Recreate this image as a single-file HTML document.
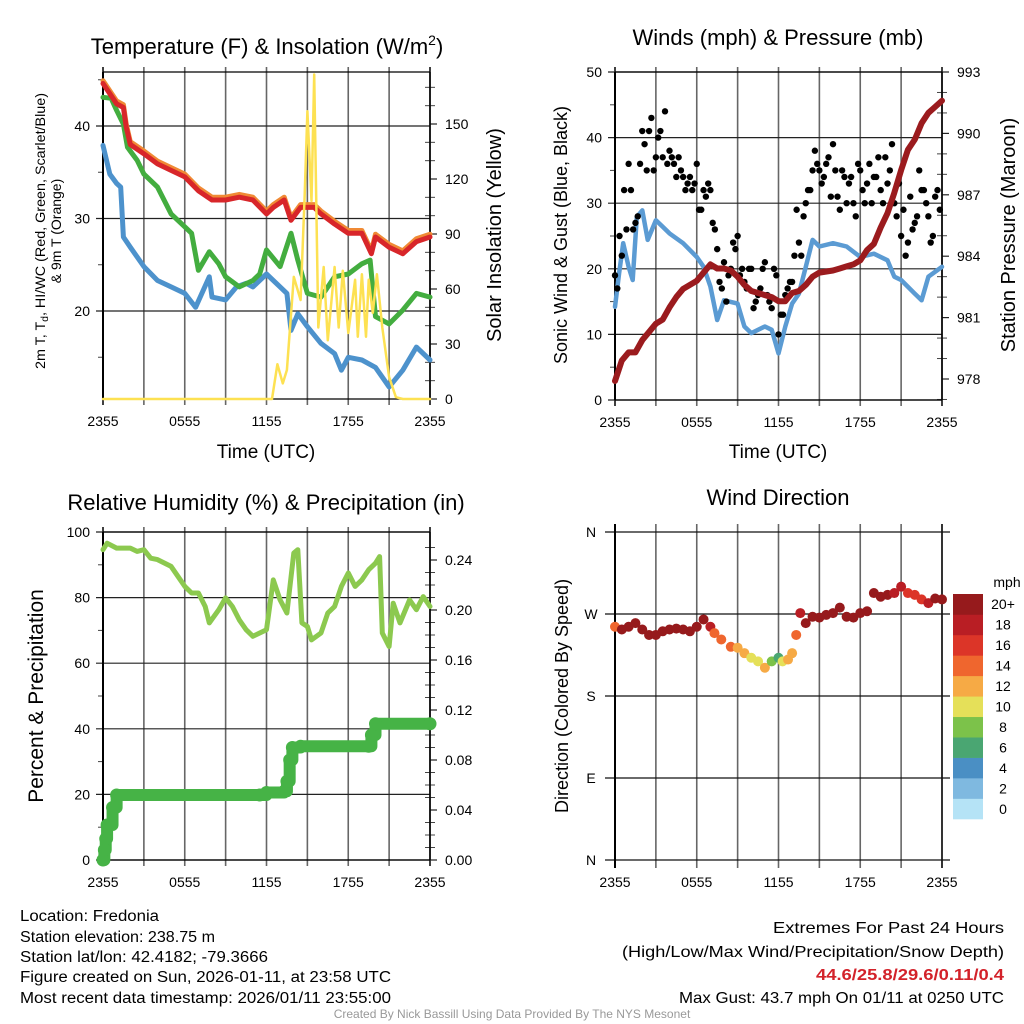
<!DOCTYPE html>
<html><head><meta charset="utf-8"><style>
html,body{margin:0;padding:0;background:#fff}
svg{display:block;font-family:"Liberation Sans",Arial,sans-serif}
</style></head><body>
<svg id="chart" width="1024" height="1024" viewBox="0 0 1024 1024" xmlns="http://www.w3.org/2000/svg">
<rect width="1024" height="1024" fill="#fff"/>
<g id="layer"></g>
<text x="267" y="54" font-size="22" text-anchor="middle">Temperature (F) &amp; Insolation (W/m<tspan font-size="14" dy="-9">2</tspan><tspan dy="9">)</tspan></text>
<text x="778" y="45" font-size="22" text-anchor="middle">Winds (mph) &amp; Pressure (mb)</text>
<text x="266" y="510" font-size="22" text-anchor="middle">Relative Humidity (%) &amp; Precipitation (in)</text>
<text x="778" y="505" font-size="22" text-anchor="middle">Wind Direction</text>

<text transform="translate(45,231) rotate(-90)" font-size="14" text-anchor="middle" textLength="276" lengthAdjust="spacingAndGlyphs">2m T, T<tspan font-size="10" dy="3">d</tspan><tspan dy="-3">, HI/WC (Red, Green, Scarlet/Blue)</tspan></text>
<text transform="translate(61,231) rotate(-90)" font-size="14" text-anchor="middle">&amp; 9m T (Orange)</text>
<text transform="translate(501,235) rotate(-90)" font-size="20" text-anchor="middle">Solar Insolation (Yellow)</text>
<text transform="translate(567,235) rotate(-90)" font-size="18" text-anchor="middle">Sonic Wind &amp; Gust (Blue, Black)</text>
<text transform="translate(1015,235) rotate(-90)" font-size="20" text-anchor="middle">Station Pressure (Maroon)</text>
<text transform="translate(43,696) rotate(-90)" font-size="21" text-anchor="middle">Percent &amp; Precipitation</text>
<text transform="translate(568,696) rotate(-90)" font-size="18" text-anchor="middle">Direction (Colored By Speed)</text>
<text x="266" y="458" font-size="19" text-anchor="middle">Time (UTC)</text>
<text x="778" y="458" font-size="19" text-anchor="middle">Time (UTC)</text>

<g font-size="15.5">
<text x="20" y="921" textLength="139" lengthAdjust="spacingAndGlyphs">Location: Fredonia</text>
<text x="20" y="942" textLength="195" lengthAdjust="spacingAndGlyphs">Station elevation: 238.75 m</text>
<text x="20" y="962" textLength="248" lengthAdjust="spacingAndGlyphs">Station lat/lon: 42.4182; -79.3666</text>
<text x="20" y="982" textLength="371" lengthAdjust="spacingAndGlyphs">Figure created on Sun, 2026-01-11, at 23:58 UTC</text>
<text x="20" y="1003" textLength="371" lengthAdjust="spacingAndGlyphs">Most recent data timestamp: 2026/01/11 23:55:00</text>
</g>
<g font-size="16">
<text x="773" y="933" textLength="231" lengthAdjust="spacingAndGlyphs">Extremes For Past 24 Hours</text>
<text x="622" y="957" textLength="382" lengthAdjust="spacingAndGlyphs">(High/Low/Max Wind/Precipitation/Snow Depth)</text>
<text x="816" y="980" textLength="188" lengthAdjust="spacingAndGlyphs" fill="#d3222a" font-weight="bold">44.6/25.8/29.6/0.11/0.4</text>
<text x="679" y="1003" textLength="325" lengthAdjust="spacingAndGlyphs">Max Gust: 43.7 mph On 01/11 at 0250 UTC</text>
</g>
<text x="512" y="1018" font-size="12" fill="#999" text-anchor="middle">Created By Nick Bassill Using Data Provided By The NYS Mesonet</text>
</svg>
<script>
// ---------- data ----------
const xTickLabels = ["2355","0555","1155","1755","2355"];
// Temperature panel
const tHours = [0,1,1.5,1.7,2,3,4,5,6,7,8,9,10,11,12,12.5,13.3,13.8,14.5,15.5,16,17,18,19,19.7,20,21,22,23,24];
const temp2m = [44.6,42.4,42,39.9,38,37,35.9,35.2,34.5,33,32,32,32.3,32,30.5,31.2,32,29.8,31.2,31.2,30.5,29.4,28.4,28.4,26.2,28,26.9,26.2,27.5,28];
const temp9m = [44.9,42.7,42.3,40.2,38.3,37.3,36.2,35.5,34.8,33.3,32.3,32.3,32.6,32.3,30.8,31.5,32.3,30.1,31.5,31.5,30.8,29.7,28.7,28.7,26.5,28.3,27.2,26.5,27.8,28.3];
const wcHours = [0,0.6,1,1.5,1.8,2.5,3,4,5,6,6.5,7,7.8,8.5,9,10,11,11.5,12,13,13.8,14.3,15,16,17,18,19,19.6,20,21,22,23,24];
const windChill = [43.1,43,41.7,40.2,37.7,36.3,34.8,33.4,30.5,29.1,28.4,24.4,26.4,25.1,23.7,22.6,23.3,24,26.6,24.8,28.4,25.5,21.9,21.5,23.7,24,25.1,25.5,19.4,18.6,20.1,21.9,21.5];
const tdHours = [0,0.5,1,1.3,1.5,2,3,4,5,6,6.8,7.8,8,9,9.8,10.5,11,12,13,13.5,13.8,14.3,15,16,17,17.5,18,19,20,21,22,23,24];
const dewpoint = [37.9,34.8,33.8,33.4,28,26.9,24.8,23.3,22.6,21.9,20.4,23.7,21.5,21.2,22.6,23,22.6,24,22.6,21.9,17.9,19.7,18.3,16.5,15.4,13.6,15,14.7,13.9,11.8,13.6,16.1,14.7];
const solHours = [0,12.4,12.8,13.2,13.5,14,14.5,14.8,15,15.3,15.5,15.8,16.2,16.5,17,17.3,17.6,18,18.5,18.7,19,19.3,19.5,19.8,20.1,20.5,21,21.5,22,24];
const solar = [0,0,19,8.5,15.8,66.6,54,110,157,108,177,39,72,32,72,39,70,36,65,34,68,34,65,47,68,39,12,1,0,0];
const tempTicks = [20,30,40];
const solarTicks = [0,30,60,90,120,150];
// Wind panel
const wHours = [0,0.3,0.6,1,1.3,1.6,2,2.4,3,3.5,4,5,6,6.5,7,7.5,8,9,9.5,10,11,11.5,12,12.5,13,13.5,14,14.5,15,16,17,18,19,20,20.5,21,22,22.5,23,24];
const sonicWind = [14.2,19.3,23.9,20.3,18.3,27.9,28.9,24.4,27.4,26.4,25.4,23.9,21.8,20.3,17.3,12.2,15.2,14.7,11.2,10.2,11.2,10.7,7.1,11.2,14.7,16.2,20.3,24.4,23.4,23.9,23.4,21.8,22.3,21.3,18.8,18.3,16.2,15.2,18.8,20.3];
const gustHoursA = [0,0.33,0.67,1,1.33,1.67,2,2.33,2.67,3,3.33,3.67,4,4.33,4.67,5,5.33,5.67,6,6.33,6.67,7,7.33,7.67,8,8.33,8.67,9,9.33,9.67,10,10.33,10.67,11,11.33,11.67,12,12.33,12.67,13,13.33,13.67,14,14.33,14.67,15,15.33,15.67,16,16.33,16.67,17,17.33,17.67,18,18.33,18.67,19,19.33,19.67,20,20.33,20.67,21,21.33,21.67,22,22.33,22.67,23,23.33,23.67];
const gustA = [19,25,32,36,26,28,41,35,43,37,41,44,38,36,37,34,33,32,36,29,31,32,26,18,21,19,24,25,20,17,20,15,17,21,15,20,10,13,17,18,29,22,30,32,38,35,34,37,39,31,35,30,34,28,35,30,36,34,37,30,33,39,28,25,22,31,27,35,32,28,25,32];
const gustB = [17,22,26,32,27,36,39,41,35,40,37,36,37,34,35,32,34,33,29,32,33,27,23,17,15,20,23,19,18,20,14,16,20,16,14,19,13,16,18,22,24,28,32,35,36,33,36,31,35,29,34,33,30,36,32,33,30,34,32,37,35,30,33,29,24,26,28,32,30,24,31,29];
const presHours = [0,0.5,1,1.5,2,2.5,3,3.5,4,4.5,5,6,6.5,7,7.5,8,8.5,9,9.5,10,10.5,11,11.5,12,12.5,13,13.5,14,14.5,15,16,16.5,17,17.5,18,18.5,19,19.5,20,20.5,21,21.5,22,22.5,23,23.5,24];
const pressure = [977.9,978.9,979.3,979.3,979.9,980.3,980.7,980.9,981.5,982,982.4,982.8,983.2,983.6,983.4,983.4,983.3,983,982.6,982.3,982.2,982.1,982,981.8,981.8,982.2,982.3,982.6,983,983.2,983.3,983.4,983.5,983.6,983.8,984.3,984.6,985.4,986.1,987.1,988.2,989.2,989.7,990.5,991,991.3,991.6];
const windTicks = [0,10,20,30,40,50];
const presTicks = [978,981,984,987,990,993];
// RH / precip panel
const rhHours = [0,0.3,1,2,2.5,3,3.5,4,5,5.5,6,6.5,7,7.5,7.8,8.5,9,9.5,10,10.5,11,11.5,12,12.5,13,13.5,14,14.3,14.6,15,15.3,16,16.5,17,17.5,18,18.5,19,19.5,20,20.3,20.5,21,21.3,21.8,22.5,23,23.5,24];
const relHum = [94.6,96.6,95.1,95.1,94.1,94.6,92,91.6,89.5,86.5,83.4,81.4,81.4,77.3,72.3,76.3,79.9,77.3,73.2,70.2,68.2,69.2,70.2,85.4,79.3,75.3,93.6,94.6,72.3,71.2,67.1,69.2,75.3,77.3,83.4,87.5,83.4,85.4,88.5,90.5,92.5,69.2,65.1,78.3,72.3,79.3,76.3,80.3,77.3];
const prHours = [0,0.1,0.2,0.3,0.7,1,11.5,12,13.3,13.5,13.7,13.9,14.5,19.5,19.7,20,24];
const precip = [0,0.008,0.017,0.028,0.042,0.052,0.052,0.054,0.055,0.063,0.08,0.09,0.091,0.091,0.1,0.109,0.109];
const rhTicks = [0,20,40,60,80,100];
const prTicks = [0,0.04,0.08,0.12,0.16,0.20,0.24];
// Wind direction panel
const dHours = [0,0.5,1,1.5,2,2.5,3,3.5,4,4.5,5,5.5,6,6.5,7,7.3,7.8,8.5,9,9.5,10,10.5,11,11.5,12,12.3,12.7,13,13.3,13.6,14,14.5,15,15.5,16,16.5,17,17.5,18,18.5,19,19.5,20,20.5,21,21.5,22,22.5,23,23.5,24];
const direction = [256,253,256,260,253,247,247,251,253,254,253,251,256,264,256,249,242,234,233,227,222,218,211,218,222,218,220,227,247,271,260,267,266,269,271,277,267,266,271,273,293,289,291,293,300,293,291,286,282,287,286];
const dirSpeed = [14,20,21,22,24,26,26,26,25,25,24,23,22,21,18,15,15,14,13,12,11,10,12,9,7,10,13,12,15,18,21,24,23,24,24,23,23,22,22,22,22,21,21,19,18,17,16,16,18,20,20];
const dirTicks = ["N","E","S","W","N"];
const cbLabels = ["0","2","4","6","8","10","12","14","16","18","20+"];
const cbColors = ["#b5e3f6","#7fb9e0","#4a8fc4","#4aa672","#7cc24a","#e5e059","#f6aa45","#ef662e","#dc3528","#b91e24","#961a1c"];

// ---------- drawing ----------
const NS="http://www.w3.org/2000/svg";
const layer=document.getElementById('layer');
function el(tag,attrs,parent){const e=document.createElementNS(NS,tag);for(const k in attrs)e.setAttribute(k,attrs[k]);(parent||layer).appendChild(e);return e;}
function lin(d0,d1,r0,r1){return v=>r0+(v-d0)/(d1-d0)*(r1-r0);}
function pathOf(hs,vs,xs,ys){return hs.map((h,i)=>(i?'L':'M')+xs(h).toFixed(1)+','+ys(vs[i]).toFixed(1)).join('');}
function stepPath(hs,vs,xs,ys){let d='M'+xs(hs[0])+','+ys(vs[0]);for(let i=1;i<hs.length;i++){d+='L'+xs(hs[i])+','+ys(vs[i-1])+'L'+xs(hs[i])+','+ys(vs[i]);}return d;}

function frame(x0,x1,y0,y1,name,leftTicks,ly,rightTicks,ry,fmtL,fmtR,minorL,minorR){
  const g=el('g',{});
  
  
  const xs=lin(0,24,x0,x1);
  for(let i=0;i<=8;i++){const x=xs(i*3);
    el('line',{x1:x,x2:x,y1:y0-5,y2:y1+6,stroke:(i==0||i==8)?'#000':'#666','stroke-width':(i==0||i==8)?1.5:1.6},g);}
  for(let i=0;i<5;i++){const t=el('text',{x:xs(i*6),y:y1+27,'font-size':14,'text-anchor':'middle'},g);t.textContent=xTickLabels[i];
    
    }
  leftTicks.forEach(v=>{const y=ly(v);el('line',{x1:x0-7,x2:x1,y1:y,y2:y,stroke:'#222','stroke-width':1.2},g);
    const t=el('text',{x:x0-13,y:y+5,'font-size':14,'text-anchor':'end'},g);t.textContent=fmtL(v);
    
    });
  (minorL||[]).forEach(v=>{const y=ly(v);el('line',{x1:x0-5,x2:x0,y1:y,y2:y,stroke:'#444','stroke-width':1},g);});
  if(rightTicks){rightTicks.forEach(v=>{const y=ry(v);el('line',{x1:x1,x2:x1+7,y1:y,y2:y,stroke:'#222','stroke-width':1.2},g);
    const t=el('text',{x:x1+15,y:y+5,'font-size':14},g);t.textContent=fmtR(v);
    
    });
    (minorR||[]).forEach(v=>{const y=ry(v);el('line',{x1:x1-5,x2:x1+5,y1:y,y2:y,stroke:'#444','stroke-width':1},g);});}
  el('line',{x1:x0,x2:x1,y1:y0,y2:y0,stroke:'#000','stroke-width':1.3},g);
  el('line',{x1:x0,x2:x1,y1:y1,y2:y1,stroke:'#000','stroke-width':1.3},g);
  el('line',{x1:x0,x2:x0,y1:y0,y2:y1,stroke:'#000','stroke-width':2},g);
  el('line',{x1:x1,x2:x1,y1:y0,y2:y1,stroke:'#000','stroke-width':1.5},g);
  return xs;
}
function line(name,d,color,w){const p=el('path',{d:d,fill:'none',stroke:color,'stroke-width':w,'stroke-linejoin':'round','stroke-linecap':'round'});
  
  return p;}

// Panel 1
{const x0=103,x1=430,y0=72,y1=399;
 const ly=lin(20,40,311,126), ry=lin(0,150,399,124);
 const minorL=[15,25,35,45], minorR=[10,20,40,50,70,80,100,110,130,140,160,170];
 const xs=frame(x0,x1,y0,y1,'temperature',tempTicks,ly,solarTicks,ry,v=>v,v=>v,minorL,minorR);
 line('dewpoint-line',pathOf(tdHours,dewpoint,xs,ly),'#4d92cc',5);
 line('wind-chill-line',pathOf(wcHours,windChill,xs,ly),'#43ad3f',5);
 line('temp-9m-line',pathOf(tHours,temp9m,xs,ly),'#f08a35',5);
 line('temp-2m-line',pathOf(tHours,temp2m,xs,ly),'#d8262a',5);
 line('solar-line',pathOf(solHours,solar,xs,ry),'#fde152',2.5);
}
// Panel 2
{const x0=615,x1=942,y0=72,y1=400;
 const ly=lin(0,50,400,72), ry=lin(978,993,379,72);
 const minorL=[5,15,25,35,45], minorR=[977,979,980,982,983,985,986,988,989,991,992];
 const xs=frame(x0,x1,y0,y1,'wind',windTicks,ly,presTicks,ry,v=>v,v=>v,minorL,minorR);
 line('sonic-wind-line',pathOf(wHours,sonicWind,xs,ly),'#5b9bd3',4.5);
 [gustA,gustB].forEach((arr,k)=>arr.forEach((v,i)=>{const h=gustHoursA[i]+k*0.17;
   const c=el('circle',{cx:xs(Math.min(h,24)),cy:ly(v),r:3.2,fill:'#000'});
   
   }));
 line('pressure-line',pathOf(presHours,pressure,xs,ry),'#9b1b1e',6);
}
// Panel 3
{const x0=103,x1=430,y0=532,y1=860;
 const ly=lin(0,100,860,532), ry=lin(0,0.24,860,560);
 const minorL=[10,30,50,70,90], minorR=[0.01,0.02,0.03,0.05,0.06,0.07,0.09,0.10,0.11,0.13,0.14,0.15,0.17,0.18,0.19,0.21,0.22,0.23,0.25];
 const xs=frame(x0,x1,y0,y1,'humidity',rhTicks,ly,prTicks,ry,v=>v,v=>v.toFixed(2),minorL,minorR);
 line('precip-line',stepPath(prHours,precip,xs,ry),'#46b346',12);
 prHours.forEach((h,i)=>{const c=el('circle',{cx:xs(h),cy:ry(precip[i]),r:6.5,fill:'#46b346'});
   
   });
 line('humidity-line',pathOf(rhHours,relHum,xs,ly),'#8cc94f',5);
}
// Panel 4
{const x0=615,x1=942,y0=532,y1=860;
 const ly=lin(0,360,860,532);
 const g=el('g',{});
 
 
 const xs=lin(0,24,x0,x1);
 for(let i=0;i<=8;i++){const x=xs(i*3);el('line',{x1:x,x2:x,y1:y0-8,y2:y1+8,stroke:(i==0||i==8)?'#000':'#666','stroke-width':1.6},g);}
 for(let i=0;i<5;i++){const t=el('text',{x:xs(i*6),y:y1+27,'font-size':14,'text-anchor':'middle'},g);t.textContent=xTickLabels[i];
   
   }
 dirTicks.forEach((lab,i)=>{const y=ly(i*90);el('line',{x1:x0-10,x2:x1+8,y1:y,y2:y,stroke:'#111','stroke-width':1.2},g);
   const t=el('text',{x:x0-24,y:y+5,'font-size':14,'text-anchor':'middle'},g);t.textContent=lab;
   
   });
 el('line',{x1:x0,x2:x0,y1:y0-8,y2:y1+8,stroke:'#000','stroke-width':2},g);
 dHours.forEach((h,i)=>{const b=Math.min(10,Math.floor(dirSpeed[i]/2));
   const c=el('circle',{cx:xs(h),cy:ly(direction[i]),r:5,fill:cbColors[b]});
   
   });
 // colorbar
 const cb=el('g',{});
 
 
 const bx=953,bw=30,top=594,bh=(819-594)/11;
 cbColors.forEach((c,i)=>{const y=top+(10-i)*bh;el('rect',{x:bx,y:y,width:bw,height:bh+0.3,fill:c},cb);
   const t=el('text',{x:1003,y:y+bh/2+5,'font-size':14,'text-anchor':'middle'},cb);t.textContent=cbLabels[i];
   
   });
 const m=el('text',{x:1007,y:587,'font-size':14,'text-anchor':'middle'},cb);m.textContent='mph';
 
 
}
</script>
</body></html>
